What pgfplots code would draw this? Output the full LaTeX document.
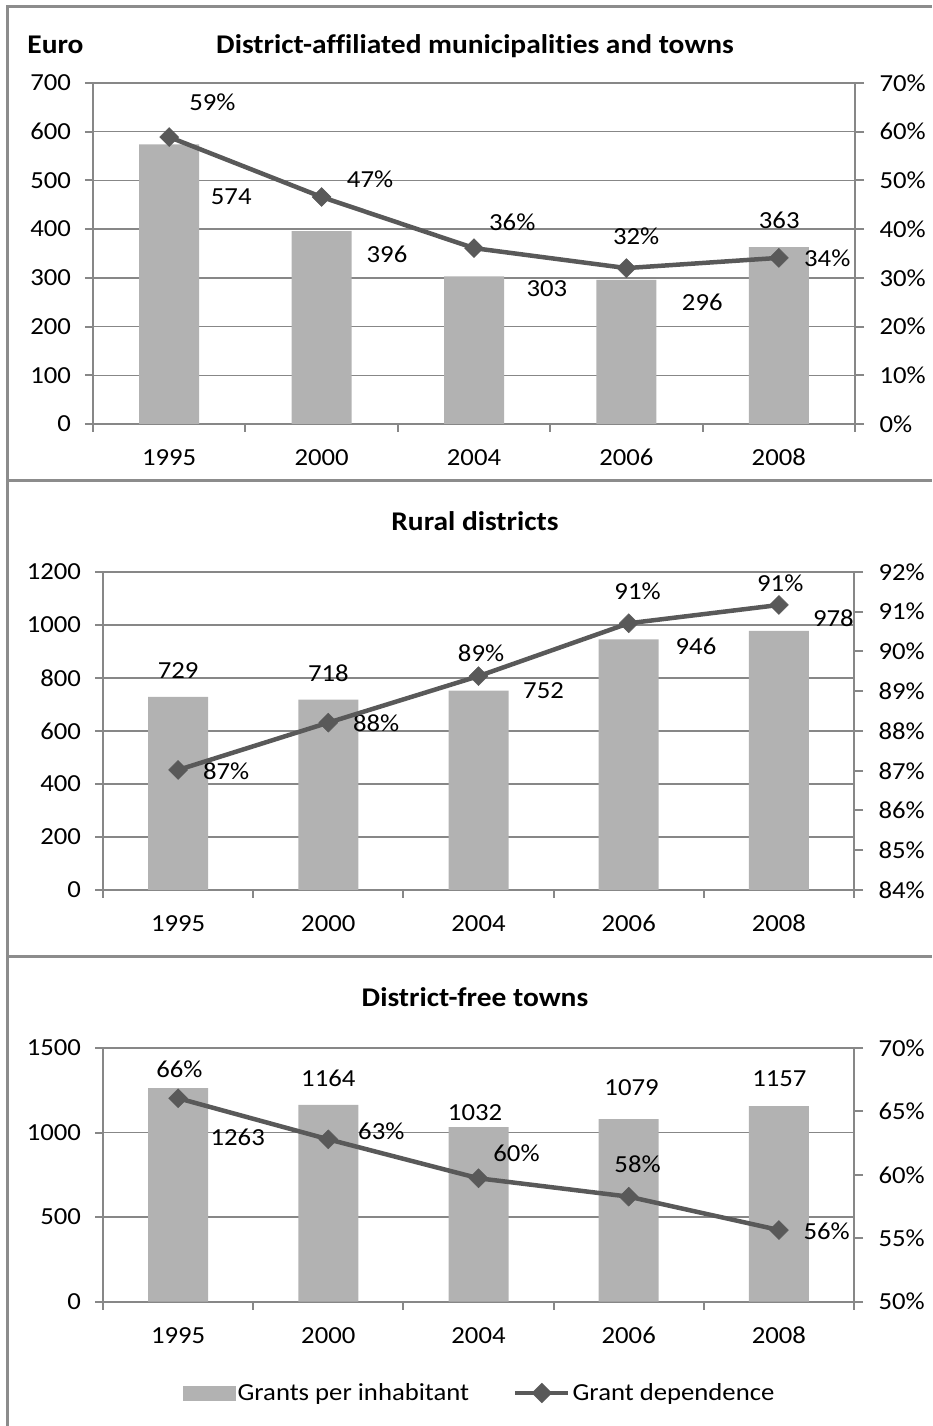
\documentclass[border=0pt]{standalone}
\usepackage{fontspec}
\setmainfont{Carlito}[Ligatures=NoCommon, FakeStretch=1.09]
\usepackage{pgfplots}
\pgfplotsset{compat=1.18}
\definecolor{barcol}{HTML}{B2B2B2}
\definecolor{linecol}{HTML}{595959}
\definecolor{gridcol}{HTML}{878787}
\definecolor{framecol}{HTML}{8C8C8C}
\newcommand{\fs}{\fontsize{24.5}{29}\selectfont}
\newcommand{\ft}{\fontsize{27}{32}\selectfont\bfseries}
\tikzset{lab/.style={font=\fs, anchor=center}}
\pgfplotsset{
 base/.style={
  scale only axis,
  xmin=-0.5, xmax=4.5,
  font=\fs,
  /pgf/number format/assume math mode=true,
  /pgf/number format/1000 sep={},
  tick align=outside,
  axis line style={gridcol, line width=2pt},
  every tick/.style={gridcol, line width=2pt},
 },
 leftax/.style={base, axis x line*=bottom, axis y line*=left,
  xtick={0,...,4}, xticklabels={1995,2000,2004,2006,2008},
  major x tick style={draw=none},
  minor xtick={-0.5,0.5,...,4.5},
  minor tick length=8pt, major tick length=8pt,
  ymajorgrids, grid style={gridcol, line width=1.5pt},
  ybar, bar width=60pt,
  yticklabel style={xshift=-10.5pt},
  xticklabel style={text height=16pt, text depth=0pt, yshift=-14pt},
 },
 rightax/.style={base, axis x line=none, axis y line*=right,
  yticklabel={\pgfmathprintnumber{\tick}\%},
  major tick length=9pt, clip=false,
  yticklabel style={xshift=12pt},
 },
 bars/.style={fill=barcol, draw=none},
 dep/.style={linecol, line width=4.5pt, mark=square*, mark size=6.7pt,
   mark options={rotate=45, line width=0.5pt, fill=linecol}},
}
\begin{document}
\begin{tikzpicture}
\useasboundingbox (0pt,0pt) rectangle (932pt,1426pt);
% frame
\draw[framecol, line width=3pt] (7pt,0pt) -- (7pt,1419pt) -- (932pt,1419pt);
\draw[framecol, line width=3pt] (7pt,945pt) -- (932pt,945pt);
\draw[framecol, line width=3pt] (7pt,469pt) -- (932pt,469pt);
% titles
\node[font=\ft, anchor=base] at (475pt,1372.7pt) {District-affiliated municipalities and towns};
\node[font=\ft, anchor=base] at (55.5pt,1372.7pt) {Euro};
\node[font=\ft, anchor=base] at (475pt,895.3pt) {Rural districts};
\node[font=\ft, anchor=base] at (475pt,419.3pt) {District-free towns};

% ---------- Panel 1 ----------
\begin{axis}[leftax, at={(93pt,1002pt)}, anchor=south west, width=762pt, height=341pt,
  ymin=0, ymax=700, ytick={0,100,...,700}]
\addplot[bars] coordinates {(0,574) (1,396) (2,303) (3,296) (4,363)};
\node[lab] at (axis cs:0.284,659.6) {59\%};
\node[lab] at (axis cs:0.407,466.6) {574};
\node[lab] at (axis cs:1.318,502.3) {47\%};
\node[lab] at (axis cs:1.429,348.3) {396};
\node[lab] at (axis cs:2.251,413.2) {36\%};
\node[lab] at (axis cs:2.478,277.7) {303};
\node[lab] at (axis cs:3.064,385.9) {32\%};
\node[lab] at (axis cs:3.498,249.0) {296};
\node[lab] at (axis cs:4.003,418.8) {363};
\node[lab] at (axis cs:4.318,340.1) {34\%};
\end{axis}
\begin{axis}[rightax, at={(93pt,1002pt)}, anchor=south west, width=762pt, height=341pt,
  ymin=0, ymax=70, ytick={0,10,...,70}]
\addplot[dep] coordinates {(0,58.9) (1,46.6) (2,36.1) (3,32.0) (4,34.1)};
\end{axis}

% ---------- Panel 2 ----------
\begin{axis}[leftax, at={(103pt,536pt)}, anchor=south west, width=751pt, height=318pt,
  ymin=0, ymax=1200, ytick={0,200,...,1200}]
\addplot[bars] coordinates {(0,729) (1,718) (2,752) (3,946) (4,978)};
\node[lab] at (axis cs:0.0,827.5) {729};
\node[lab] at (axis cs:0.320,446.4) {87\%};
\node[lab] at (axis cs:1.0,817.6) {718};
\node[lab] at (axis cs:1.319,629) {88\%};
\node[lab] at (axis cs:2.017,894) {89\%};
\node[lab] at (axis cs:2.433,752) {752};
\node[lab] at (axis cs:3.059,1125.7) {91\%};
\node[lab] at (axis cs:3.448,918) {946};
\node[lab] at (axis cs:4.009,1157) {91\%};
\node[lab] at (axis cs:4.363,1025) {978};
\end{axis}
\begin{axis}[rightax, at={(103pt,536pt)}, anchor=south west, width=751pt, height=318pt,
  ymin=84, ymax=92, ytick={84,85,...,92}]
\addplot[dep] coordinates {(0,87.02) (1,88.21) (2,89.38) (3,90.71) (4,91.17)};
\end{axis}

% ---------- Panel 3 ----------
\begin{axis}[leftax, at={(103pt,124.3pt)}, anchor=south west, width=751pt, height=253.7pt,
  ymin=0, ymax=1500, ytick={0,500,...,1500}]
\addplot[bars] coordinates {(0,1263) (1,1164) (2,1032) (3,1079) (4,1157)};
\node[lab] at (axis cs:0.009,1375.8) {66\%};
\node[lab] at (axis cs:0.397,972) {1263};
\node[lab] at (axis cs:1.0,1320.8) {1164};
\node[lab] at (axis cs:1.353,1005) {63\%};
\node[lab] at (axis cs:1.977,1115) {1032};
\node[lab] at (axis cs:2.253,877) {60\%};
\node[lab] at (axis cs:3.019,1267.6) {1079};
\node[lab] at (axis cs:3.059,814) {58\%};
\node[lab] at (axis cs:4.003,1320.8) {1157};
\node[lab] at (axis cs:4.318,414) {56\%};
\end{axis}
\begin{axis}[rightax, at={(103pt,124.3pt)}, anchor=south west, width=751pt, height=253.7pt,
  ymin=50, ymax=70, ytick={50,55,...,70},
  legend columns=2,
  legend style={at={(0.1065,-0.36)}, anchor=west, draw=none, fill=none, font=\fs,
    inner sep=0pt, /tikz/every even column/.append style={column sep=42pt}},
  legend cell align=left]
\addlegendimage{legend image code/.code={\fill[barcol] (0pt,-7pt) rectangle (52pt,7pt);}}
\addlegendentry{Grants per inhabitant}
\addplot[dep, legend image code/.code={
   \draw[linecol, line width=4.5pt] (0pt,0pt) -- (53pt,0pt);
   \fill[linecol] (26.5pt,7pt) -- (33.5pt,0pt) -- (26.5pt,-7pt) -- (19.5pt,0pt) -- cycle;}]
  coordinates {(0,66.04) (1,62.8) (2,59.73) (3,58.28) (4,55.65)};
\addlegendentry{Grant dependence}
\end{axis}
\end{tikzpicture}
\end{document}
